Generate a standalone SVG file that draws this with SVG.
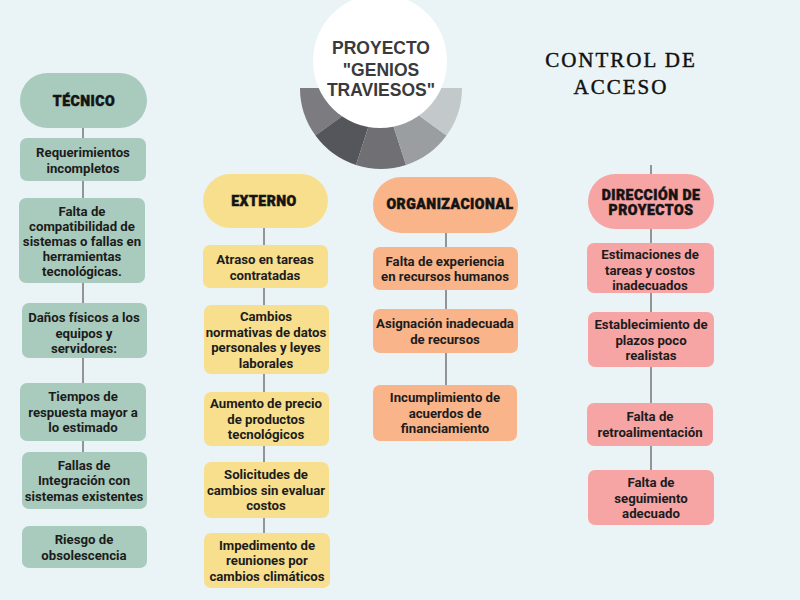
<svg xmlns="http://www.w3.org/2000/svg" width="800" height="600" viewBox="0 0 800 600">
<style>
.t{font-family:Roboto,"Liberation Sans",sans-serif;font-weight:700;font-size:13.2px;fill:#1c1c1c;text-anchor:middle}
.h{font-family:Roboto,"Liberation Sans",sans-serif;font-weight:900;font-size:14px;letter-spacing:0.5px;fill:#141414;stroke:#141414;stroke-width:0.5;text-anchor:middle}
.g{fill:#a9cbbd}.y{fill:#f8df8e}.o{fill:#f9b48a}.p{fill:#f6a4a4}
.c{stroke:#555;stroke-width:1.2;fill:none}
</style>
<rect width="800" height="600" fill="#eaf4f6"/>
<g id="connectors">
<line class="c" x1="83" y1="128" x2="83" y2="452"/>
<line class="c" x1="264" y1="228" x2="264" y2="533"/>
<line class="c" x1="446" y1="233" x2="446" y2="385"/>
<line class="c" x1="651" y1="165" x2="651" y2="470"/>
</g>
<g id="title">
<path d="M381,88 L300,88 A81,81 0 0,0 315.5,135.6 Z" fill="#7b7b80"/>
<path d="M381,88 L315.5,135.6 A81,81 0 0,0 356,165 Z" fill="#55565b"/>
<path d="M381,88 L356,165 A81,81 0 0,0 406,165 Z" fill="#707074"/>
<path d="M381,88 L406,165 A81,81 0 0,0 446.5,135.6 Z" fill="#9b9ea1"/>
<path d="M381,88 L446.5,135.6 A81,81 0 0,0 462,88 Z" fill="#c3c9cb"/>
<circle cx="380" cy="61" r="67" fill="#ffffff"/>
<text font-family="'Liberation Sans',Arial,sans-serif" font-weight="700" font-size="17.5" fill="#3a3a3a" text-anchor="middle"><tspan x="381" y="54">PROYECTO</tspan><tspan x="381" y="76">"GENIOS</tspan><tspan x="381" y="96">TRAVIESOS"</tspan></text>
</g>
<g id="control">
<text font-family="'Liberation Serif',serif" font-size="21" letter-spacing="2" fill="#111" stroke="#111" stroke-width="0.45" text-anchor="middle"><tspan x="621" y="67">CONTROL DE</tspan><tspan x="621" y="94">ACCESO</tspan></text>
</g>
<g id="tecnico"><rect class="g" x="20" y="73" width="127" height="55" rx="27.5"/><text class="h" x="84" y="106">TÉCNICO</text></g>
<g id="t1"><rect class="g" x="20" y="138" width="126" height="43" rx="7"/><text class="t"><tspan x="83" y="157">Requerimientos</tspan><tspan x="83" y="172.5">incompletos</tspan></text></g>
<g id="t2"><rect class="g" x="19" y="198" width="126" height="85" rx="7"/><text class="t"><tspan x="82" y="216">Falta de</tspan><tspan x="82" y="231">compatibilidad de</tspan><tspan x="82" y="246">sistemas o fallas en</tspan><tspan x="82" y="261">herramientas</tspan><tspan x="82" y="276">tecnológicas.</tspan></text></g>
<g id="t3"><rect class="g" x="22" y="303" width="125" height="55" rx="7"/><text class="t"><tspan x="84" y="322">Daños físicos a los</tspan><tspan x="84" y="338">equipos y</tspan><tspan x="84" y="353">servidores:</tspan></text></g>
<g id="t4"><rect class="g" x="20" y="383" width="126" height="58" rx="7"/><text class="t"><tspan x="83" y="401">Tiempos de</tspan><tspan x="83" y="416.5">respuesta mayor a</tspan><tspan x="83" y="432">lo estimado</tspan></text></g>
<g id="t5"><rect class="g" x="22" y="452" width="125" height="57" rx="7"/><text class="t"><tspan x="84" y="469.5">Fallas de</tspan><tspan x="84" y="485">Integración con</tspan><tspan x="84" y="500.5">sistemas existentes</tspan></text></g>
<g id="t6"><rect class="g" x="22" y="526" width="125" height="42" rx="7"/><text class="t"><tspan x="84" y="544">Riesgo de</tspan><tspan x="84" y="559.5">obsolescencia</tspan></text></g>
<g id="externo"><rect class="y" x="203" y="174" width="125" height="54" rx="27"/><text class="h" x="264" y="206">EXTERNO</text></g>
<g id="e1"><rect class="y" x="203" y="245" width="125" height="43" rx="7"/><text class="t"><tspan x="265" y="264">Atraso en tareas</tspan><tspan x="265" y="279.5">contratadas</tspan></text></g>
<g id="e2"><rect class="y" x="204" y="305" width="125" height="69" rx="7"/><text class="t"><tspan x="266" y="321">Cambios</tspan><tspan x="266" y="336.5">normativas de datos</tspan><tspan x="266" y="352">personales y leyes</tspan><tspan x="266" y="367.5">laborales</tspan></text></g>
<g id="e3"><rect class="y" x="204" y="392" width="125" height="54" rx="7"/><text class="t"><tspan x="266" y="408">Aumento de precio</tspan><tspan x="266" y="423.5">de productos</tspan><tspan x="266" y="439">tecnológicos</tspan></text></g>
<g id="e4"><rect class="y" x="204" y="462" width="125" height="56" rx="7"/><text class="t"><tspan x="266" y="479">Solicitudes de</tspan><tspan x="266" y="494.5">cambios sin evaluar</tspan><tspan x="266" y="510">costos</tspan></text></g>
<g id="e5"><rect class="y" x="204" y="533" width="126" height="55" rx="7"/><text class="t"><tspan x="267" y="549.5">Impedimento de</tspan><tspan x="267" y="565">reuniones por</tspan><tspan x="267" y="580.5">cambios climáticos</tspan></text></g>
<g id="organizacional"><rect class="o" x="373" y="177" width="145" height="56" rx="28"/><text class="h" x="450" y="209">ORGANIZACIONAL</text></g>
<g id="o1"><rect class="o" x="373" y="247" width="145" height="43" rx="7"/><text class="t"><tspan x="445" y="265.5">Falta de experiencia</tspan><tspan x="445" y="281">en recursos humanos</tspan></text></g>
<g id="o2"><rect class="o" x="373" y="309" width="145" height="44" rx="7"/><text class="t"><tspan x="445" y="328">Asignación inadecuada</tspan><tspan x="445" y="343.5">de recursos</tspan></text></g>
<g id="o3"><rect class="o" x="373" y="385" width="144" height="56" rx="7"/><text class="t"><tspan x="445" y="402">Incumplimiento de</tspan><tspan x="445" y="417.5">acuerdos de</tspan><tspan x="445" y="433">financiamiento</tspan></text></g>
<g id="direccion"><rect class="p" x="588" y="174" width="126" height="55" rx="27.5"/><text class="h"><tspan x="651" y="200">DIRECCIÓN DE</tspan><tspan x="651" y="214.5">PROYECTOS</tspan></text></g>
<g id="d1"><rect class="p" x="587" y="243" width="127" height="50" rx="7"/><text class="t"><tspan x="650" y="259">Estimaciones de</tspan><tspan x="650" y="274.5">tareas y costos</tspan><tspan x="650" y="290">inadecuados</tspan></text></g>
<g id="d2"><rect class="p" x="588" y="312" width="126" height="55" rx="7"/><text class="t"><tspan x="651" y="329">Establecimiento de</tspan><tspan x="651" y="344.5">plazos poco</tspan><tspan x="651" y="360">realistas</tspan></text></g>
<g id="d3"><rect class="p" x="587" y="403" width="126" height="43" rx="7"/><text class="t"><tspan x="650" y="421">Falta de</tspan><tspan x="650" y="436.5">retroalimentación</tspan></text></g>
<g id="d4"><rect class="p" x="588" y="470" width="126" height="55" rx="7"/><text class="t"><tspan x="651" y="487">Falta de</tspan><tspan x="651" y="502.5">seguimiento</tspan><tspan x="651" y="518">adecuado</tspan></text></g>
</svg>
